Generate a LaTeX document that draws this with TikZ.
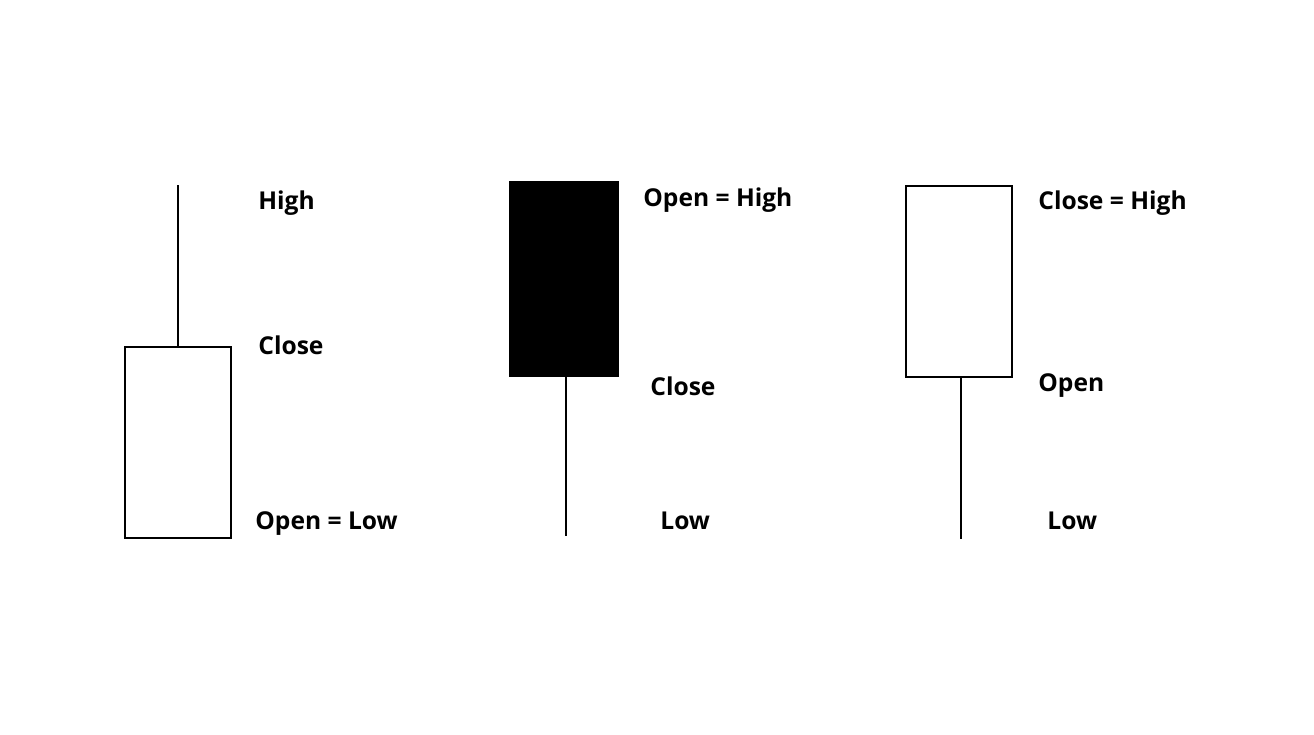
\documentclass[tikz,border=0pt]{standalone}
\usepackage{fontspec}
\setmainfont{Open Sans}
\begin{document}
\begin{tikzpicture}[x=0.02cm,y=-0.02cm,
  lbl/.style={anchor=west,inner sep=0pt,font=\fontsize{14}{16}\selectfont\bfseries},
  body/.style={draw=black,line width=1.3pt},
  wick/.style={draw=black,line width=0.8pt}]
\useasboundingbox (0,0) rectangle (1314,734);
% candle 1
\coordinate (h1) at (178,185);
\coordinate (t1) at (178,347);
\draw[body] (125,347) rectangle (231,538);
\draw[wick] (h1) -- (t1);
\node[lbl] (l1a) at (258,203) {High};
\node[lbl] (l1b) at (258,345) {Close};
\node[lbl] (l1c) at (255,524) {Open = Low};
% candle 2
\draw[body,fill=black] (510,182) rectangle (618,376);
\coordinate (b2) at (566,376);
\coordinate (w2) at (566,536);
\draw[wick] (b2) -- (w2);
\node[lbl] (l2a) at (643,200) {Open = High};
\node[lbl] (l2b) at (650,386) {Close};
\node[lbl] (l2c) at (660,521) {Low};
% candle 3
\draw[body] (906,186) rectangle (1012,377);
\coordinate (b3) at (961,377);
\coordinate (w3) at (961,539);
\draw[wick] (b3) -- (w3);
\node[lbl] (l3a) at (1038,203) {Close = High};
\node[lbl] (l3b) at (1038,386) {Open};
\node[lbl] (l3c) at (1047,521) {Low};
\end{tikzpicture}
\end{document}
